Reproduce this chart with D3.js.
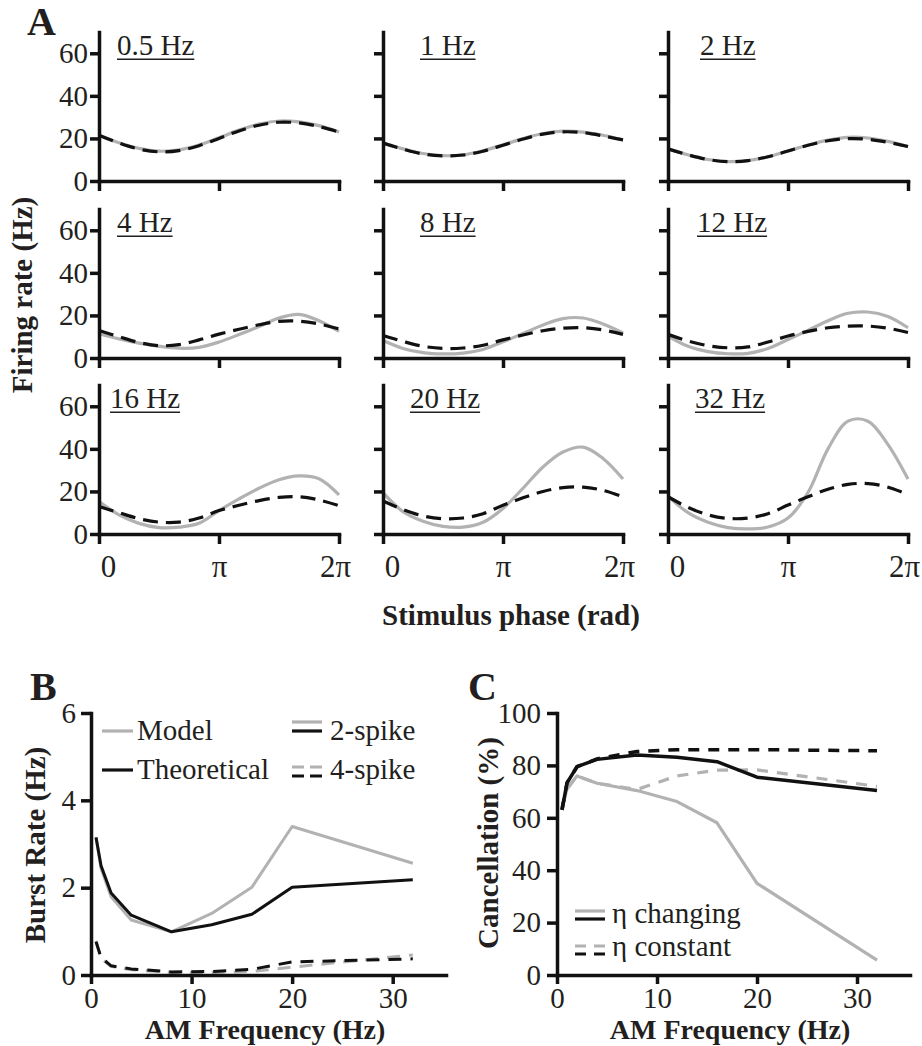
<!DOCTYPE html>
<html>
<head>
<meta charset="utf-8">
<script src="https://cdn.jsdelivr.net/npm/d3@7"></script>
<style>
  body { margin: 0; background: #fff; }
  svg { display: block; }
</style>
</head>
<body>
<svg></svg>
<script>
// ---- Panel A data: firing rate vs stimulus phase (phase in units of pi) ----
const phase = [0, 0.1667, 0.3333, 0.5, 0.6667, 0.8333, 1, 1.1667, 1.3333, 1.5, 1.6667, 1.8333, 2];
const stimFreqs = ["0.5 Hz", "1 Hz", "2 Hz", "4 Hz", "8 Hz", "12 Hz", "16 Hz", "20 Hz", "32 Hz"];
const modelRate = [
  [21.5, 18.0, 15.3, 14.0, 14.6, 16.9, 20.3, 23.9, 26.7, 28.2, 27.8, 26.0, 23.0],
  [18.0, 15.1, 12.9, 11.9, 12.3, 14.2, 17.0, 19.9, 22.3, 23.4, 23.0, 21.5, 19.3],
  [15.1, 12.3, 10.1, 9.1, 9.6, 11.4, 14.1, 16.9, 19.2, 20.5, 20.2, 18.6, 16.2],
  [11.4, 9.0, 7.0, 5.5, 4.6, 5.0, 7.5, 11.0, 14.8, 18.8, 20.5, 17.5, 12.5],
  [8.2, 4.5, 2.5, 1.9, 2.3, 4.0, 7.6, 11.5, 15.5, 18.5, 18.8, 16.0, 11.8],
  [10.3, 5.5, 3.0, 2.0, 2.2, 4.5, 8.7, 13.0, 17.5, 21.0, 21.6, 19.5, 14.2],
  [15.2, 9.0, 5.0, 3.0, 3.2, 5.0, 11.0, 16.5, 21.5, 25.5, 27.3, 26.0, 18.4],
  [19.4, 10.5, 6.0, 3.6, 3.2, 5.5, 12.0, 21.5, 31.5, 38.5, 40.8, 35.5, 25.8],
  [17.8, 10.0, 5.5, 3.0, 2.4, 3.3, 7.5, 19.5, 40.0, 53.0, 53.0, 42.0, 25.8]
];
const theoryRate = [
  [21.5, 17.8, 15.0, 13.7, 14.3, 16.6, 20.0, 23.5, 26.2, 27.6, 27.3, 25.6, 23.0],
  [17.8, 15.0, 12.7, 11.8, 12.2, 14.0, 16.8, 19.7, 22.0, 23.1, 22.7, 21.2, 19.3],
  [15.1, 12.3, 10.1, 9.1, 9.6, 11.4, 14.1, 16.8, 18.9, 19.9, 19.6, 18.2, 16.2],
  [12.9, 10.0, 7.3, 5.8, 6.3, 8.5, 11.2, 13.5, 15.6, 17.2, 17.3, 16.0, 13.7],
  [10.6, 7.8, 5.5, 4.5, 4.7, 6.0, 8.5, 10.8, 12.8, 14.0, 14.2, 13.2, 11.1],
  [11.1, 8.0, 5.8, 4.8, 5.2, 7.5, 10.3, 12.5, 14.2, 15.0, 15.0, 14.0, 12.0],
  [12.9, 10.0, 7.2, 5.6, 5.6, 7.5, 11.0, 13.5, 15.7, 17.2, 17.5, 16.0, 13.3],
  [15.5, 11.5, 8.5, 7.2, 7.5, 9.5, 13.5, 17.0, 20.0, 21.8, 22.0, 20.5, 17.5],
  [17.5, 12.5, 9.0, 7.3, 7.5, 9.5, 13.6, 17.5, 21.0, 23.3, 23.7, 22.0, 18.6]
];
const rateTicks = [0, 20, 40, 60];
const phaseTickVals = [0, 1, 2];
const phaseTickLabels = ["0", "π", "2π"];

// ---- Panel B data: burst rate vs AM frequency ----
const amFreq = [0.5, 1, 2, 4, 8, 12, 16, 20, 32];
const model2 = [3.16, 2.44, 1.79, 1.26, 0.99, 1.41, 2.01, 3.40, 2.56];
const theory2 = [3.15, 2.5, 1.88, 1.37, 0.99, 1.15, 1.39, 2.01, 2.18];
const model4 = [0.78, 0.38, 0.2, 0.12, 0.06, 0.06, 0.08, 0.18, 0.46];
const theory4 = [0.76, 0.4, 0.21, 0.14, 0.07, 0.08, 0.13, 0.3, 0.37];
const burstTicks = [0, 2, 4, 6];
const freqTicks = [0, 10, 20, 30];

// ---- Panel C data: cancellation vs AM frequency ----
const modelChanging = [64, 71, 76, 73.2, 70.4, 66.2, 58.1, 35, 5.7];
const theoryChanging = [63, 73.3, 79.5, 82.3, 84, 83.1, 81.4, 75.5, 70.4];
const modelConstant = [64, 71, 76, 73.2, 70.8, 76, 78.2, 78.3, 72];
const theoryConstant = [63, 73.3, 79.5, 82.5, 85.3, 86, 86, 86, 85.6];
const cancelTicks = [0, 20, 40, 60, 80, 100];

const grey = "#b2b2b2", ink = "#111", textCol = "#231f20";
const serif = "'Liberation Serif', 'Times New Roman', serif";

const svg = d3.select("svg").attr("width", 922).attr("height", 1046)
  .attr("font-family", serif);
svg.append("rect").attr("width", 922).attr("height", 1046).attr("fill", "#fff");

function styleAxis(g, size) {
  g.attr("font-size", size).attr("font-family", serif);
  g.selectAll(".tick text").attr("fill", textCol);
  g.select(".domain").attr("stroke", ink).attr("stroke-width", 3.5).attr("stroke-linecap", "square");
  g.selectAll(".tick line").attr("stroke", ink).attr("stroke-width", 3.5);
}

function addText(x, y, str, size, bold, anchor, rot) {
  const t = svg.append("text")
    .attr("font-family", serif).attr("font-size", size).attr("fill", textCol)
    .attr("font-weight", bold ? "bold" : null)
    .attr("text-anchor", anchor || "start")
    .text(str);
  if (rot) t.attr("transform", `translate(${x},${y}) rotate(${rot})`);
  else t.attr("x", x).attr("y", y);
  return t;
}

function drawLine(g, xs, ys, x, y, color, dash, width, curve) {
  const line = d3.line().x((d, i) => x(xs[i])).y(d => y(d));
  if (curve) line.curve(curve);
  g.append("path").datum(ys)
    .attr("d", line)
    .attr("fill", "none")
    .attr("stroke", color)
    .attr("stroke-width", width)
    .attr("stroke-dasharray", dash)
    .attr("stroke-linejoin", "round");
}

// ================= Panel A =================
const colX = [99, 383, 668];
const rowY = [181, 358, 534];
const titleDx = [18, 37, 32, 18, 37, 29, 11, 27, 27];

stimFreqs.forEach((label, i) => {
  const col = i % 3, row = Math.floor(i / 3);
  const x0 = colX[col], y0 = rowY[row];
  const x = d3.scaleLinear().domain([0, 2]).range([x0, x0 + 240]);
  const y = d3.scaleLinear().domain([0, 70]).range([y0, y0 - 149]);
  const g = svg.append("g");

  drawLine(g, phase, modelRate[i], x, y, grey, null, 3.2, d3.curveCatmullRom);
  drawLine(g, phase, theoryRate[i], x, y, ink, "15,8", 3.2, d3.curveCatmullRom);

  const ya = g.append("g").attr("transform", `translate(${x0},0)`)
    .call(d3.axisLeft(y).tickValues(rateTicks).tickSize(9).tickSizeOuter(0).tickPadding(2)
      .tickFormat(col === 0 ? d3.format("d") : () => ""));
  styleAxis(ya, 29);

  const xa = g.append("g").attr("transform", `translate(0,${y0})`)
    .call(d3.axisBottom(x).tickValues(phaseTickVals).tickSize(10).tickSizeOuter(0).tickPadding(11)
      .tickFormat((d, k) => row === 2 ? phaseTickLabels[k] : ""));
  styleAxis(xa, 31);
  xa.selectAll(".tick text").attr("dx", (d, k) => k === 0 ? 9 : (k === 2 ? -4 : 0));

  const t = g.append("text")
    .attr("font-family", serif).attr("fill", textCol)
    .attr("x", x0 + titleDx[i]).attr("y", y(60) + 2)
    .attr("font-size", 29).text(label);
  const w = t.node().getComputedTextLength();
  g.append("line")
    .attr("x1", x0 + titleDx[i]).attr("x2", x0 + titleDx[i] + w)
    .attr("y1", y(60) + 6).attr("y2", y(60) + 6)
    .attr("stroke", textCol).attr("stroke-width", 1.5);
});

addText(27, 35, "A", 40, true);
addText(32, 295, "Firing rate (Hz)", 29, true, "middle", -90);
addText(511, 625, "Stimulus phase (rad)", 29, true, "middle");

// ================= Panel B =================
{
  const x = d3.scaleLinear().domain([0, 35.3]).range([91, 446]);
  const y = d3.scaleLinear().domain([0, 6]).range([975, 713]);
  const g = svg.append("g");

  drawLine(g, amFreq, model4, x, y, grey, "13,9", 3);
  drawLine(g, amFreq, theory4, x, y, ink, "13,9", 3);
  drawLine(g, amFreq, model2, x, y, grey, null, 3);
  drawLine(g, amFreq, theory2, x, y, ink, null, 3);

  const ya = g.append("g").attr("transform", "translate(91,0)")
    .call(d3.axisLeft(y).tickValues(burstTicks).tickSize(10).tickSizeOuter(0).tickPadding(5)
      .tickFormat(d3.format("d")));
  styleAxis(ya, 29);
  const xa = g.append("g").attr("transform", "translate(0,975)")
    .call(d3.axisBottom(x).tickValues(freqTicks).tickSize(9).tickSizeOuter(0).tickPadding(3)
      .tickFormat(d3.format("d")));
  styleAxis(xa, 29);

  // legend
  const seg = (x1, x2, yy, c, dash) => g.append("line").attr("x1", x1).attr("x2", x2)
    .attr("y1", yy).attr("y2", yy).attr("stroke", c).attr("stroke-width", 3.2)
    .attr("stroke-dasharray", dash);
  seg(102, 133, 731, grey);
  seg(102, 133, 770, ink);
  addText(137, 740, "Model", 29);
  addText(137, 779, "Theoretical", 29);
  seg(292, 322, 722, grey);
  seg(292, 322, 731, ink);
  seg(292, 322, 767, grey, "12,6");
  seg(292, 322, 776, ink, "12,6");
  addText(330, 740, "2-spike", 29);
  addText(330, 779, "4-spike", 29);

  addText(30, 700, "B", 40, true);
  addText(45, 845, "Burst Rate (Hz)", 29, true, "middle", -90);
  addText(265, 1039, "AM Frequency (Hz)", 28, true, "middle");
}

// ================= Panel C =================
{
  const x = d3.scaleLinear().domain([0, 35.3]).range([557, 910]);
  const y = d3.scaleLinear().domain([0, 100]).range([975, 713]);
  const g = svg.append("g");

  drawLine(g, amFreq, modelConstant, x, y, grey, "11,9", 3.2);
  drawLine(g, amFreq, modelChanging, x, y, grey, null, 3.2);
  drawLine(g, amFreq, theoryConstant, x, y, ink, "11,9", 3.5);
  drawLine(g, amFreq, theoryChanging, x, y, ink, null, 3.5);

  const ya = g.append("g").attr("transform", "translate(557,0)")
    .call(d3.axisLeft(y).tickValues(cancelTicks).tickSize(10).tickSizeOuter(0).tickPadding(6)
      .tickFormat(d3.format("d")));
  styleAxis(ya, 29);
  const xa = g.append("g").attr("transform", "translate(0,975)")
    .call(d3.axisBottom(x).tickValues(freqTicks).tickSize(9).tickSizeOuter(0).tickPadding(3)
      .tickFormat(d3.format("d")));
  styleAxis(xa, 29);

  const seg = (x1, x2, yy, c, dash) => g.append("line").attr("x1", x1).attr("x2", x2)
    .attr("y1", yy).attr("y2", yy).attr("stroke", c).attr("stroke-width", 3.2)
    .attr("stroke-dasharray", dash);
  seg(575, 605, 911, grey);
  seg(575, 605, 919, ink);
  seg(575, 605, 946, grey, "11,8");
  seg(575, 605, 954, ink, "11,8");
  addText(612, 923, "η changing", 29);
  addText(612, 956, "η constant", 29);

  addText(468, 700, "C", 40, true);
  addText(498, 843, "Cancellation (%)", 29, true, "middle", -90);
  addText(730, 1039, "AM Frequency (Hz)", 28, true, "middle");
}
</script>
</body>
</html>
